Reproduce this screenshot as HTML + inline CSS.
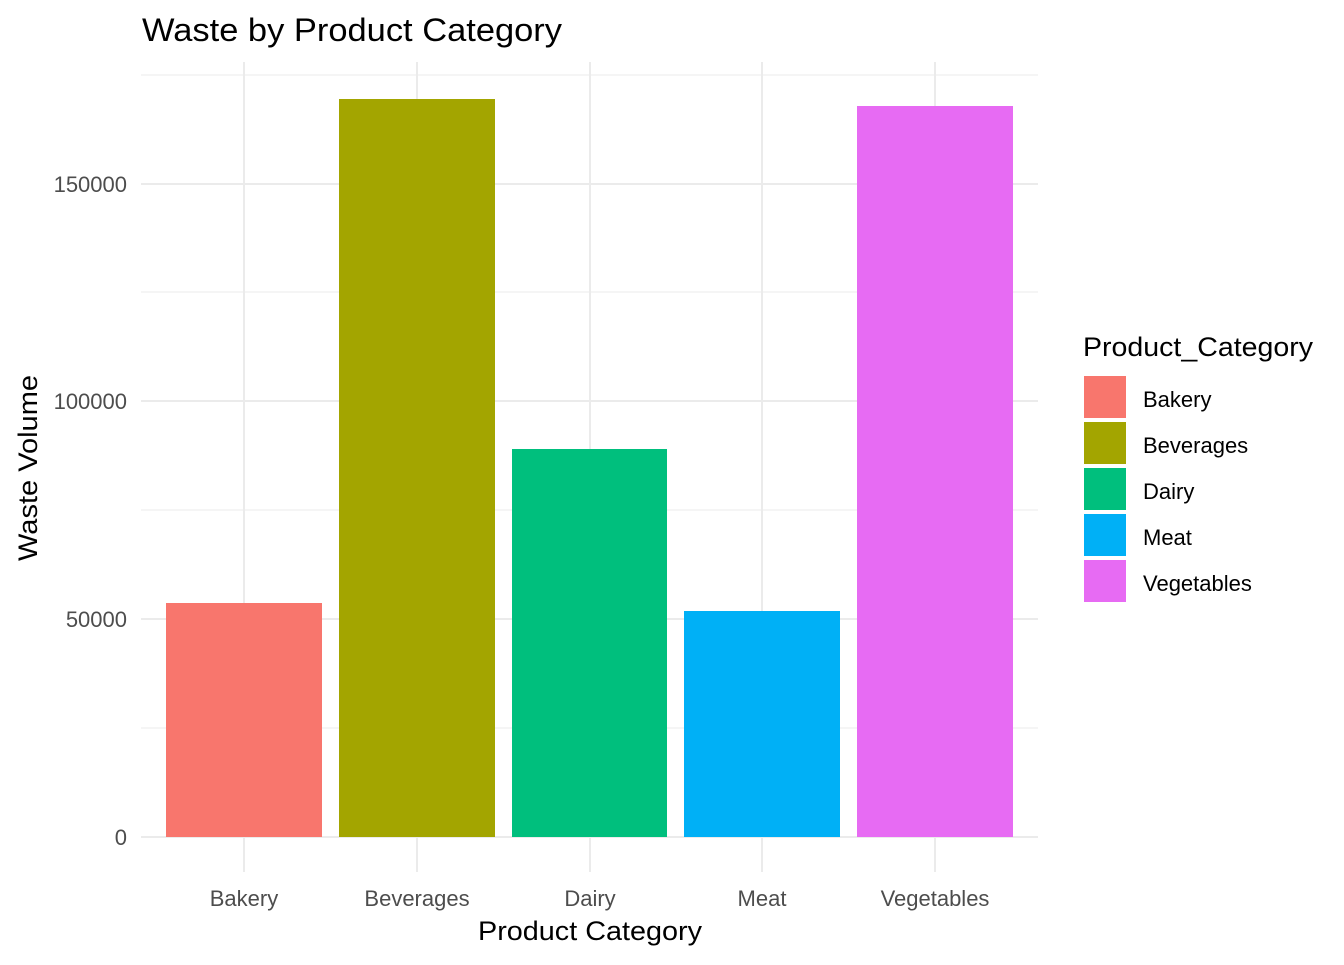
<!DOCTYPE html>
<html><head><meta charset="utf-8"><style>
html,body{margin:0;padding:0;background:#fff;}
svg text{font-family:"Liberation Sans",Arial,sans-serif;}
</style></head><body>
<svg width="1344" height="960" xmlns="http://www.w3.org/2000/svg">
<rect width="1344" height="960" fill="#fff"/>
<g stroke="#ebebeb" stroke-width="1">
<line x1="141" x2="1038" y1="75" y2="75"/>
<line x1="141" x2="1038" y1="292" y2="292"/>
<line x1="141" x2="1038" y1="510" y2="510"/>
<line x1="141" x2="1038" y1="728" y2="728"/>
</g>
<g stroke="#ebebeb" stroke-width="2">
<line x1="141" x2="1038" y1="184" y2="184"/>
<line x1="141" x2="1038" y1="401" y2="401"/>
<line x1="141" x2="1038" y1="619" y2="619"/>
<line x1="141" x2="1038" y1="837" y2="837"/>
<line x1="244" x2="244" y1="62" y2="872"/>
<line x1="417" x2="417" y1="62" y2="872"/>
<line x1="590" x2="590" y1="62" y2="872"/>
<line x1="762" x2="762" y1="62" y2="872"/>
<line x1="935" x2="935" y1="62" y2="872"/>
</g>
<rect x="166" y="603" width="156" height="234" fill="#F8766D"/>
<rect x="339" y="99" width="156" height="738" fill="#A3A500"/>
<rect x="512" y="449" width="155" height="388" fill="#00BF7D"/>
<rect x="684" y="611" width="156" height="226" fill="#00B0F6"/>
<rect x="857" y="106" width="156" height="731" fill="#E76BF3"/>
<g font-size="22" fill="#4d4d4d" text-anchor="end">
<text x="127" y="192">150000</text>
<text x="127" y="409">100000</text>
<text x="127" y="627">50000</text>
<text x="127" y="845">0</text>
</g>
<g font-size="22" fill="#4d4d4d" text-anchor="middle">
<text x="244" y="906">Bakery</text>
<text x="417" y="906">Beverages</text>
<text x="590" y="906">Dairy</text>
<text x="762" y="906">Meat</text>
<text x="935" y="906">Vegetables</text>
</g>
<text x="478" y="940" font-size="27" fill="#000" textLength="224" lengthAdjust="spacingAndGlyphs">Product Category</text>
<text transform="translate(37,561) rotate(-90)" font-size="27" fill="#000" textLength="186" lengthAdjust="spacingAndGlyphs">Waste Volume</text>
<text x="142" y="41" font-size="32" fill="#000" textLength="420" lengthAdjust="spacingAndGlyphs">Waste by Product Category</text>
<text x="1083" y="356" font-size="27" fill="#000" textLength="230" lengthAdjust="spacingAndGlyphs">Product_Category</text>
<rect x="1084" y="376" width="42" height="42" fill="#F8766D"/>
<rect x="1084" y="422" width="42" height="42" fill="#A3A500"/>
<rect x="1084" y="468" width="42" height="42" fill="#00BF7D"/>
<rect x="1084" y="514" width="42" height="42" fill="#00B0F6"/>
<rect x="1084" y="560" width="42" height="42" fill="#E76BF3"/>
<g font-size="22" fill="#000">
<text x="1143" y="407">Bakery</text>
<text x="1143" y="453">Beverages</text>
<text x="1143" y="499">Dairy</text>
<text x="1143" y="545">Meat</text>
<text x="1143" y="591">Vegetables</text>
</g>
</svg>
</body></html>
